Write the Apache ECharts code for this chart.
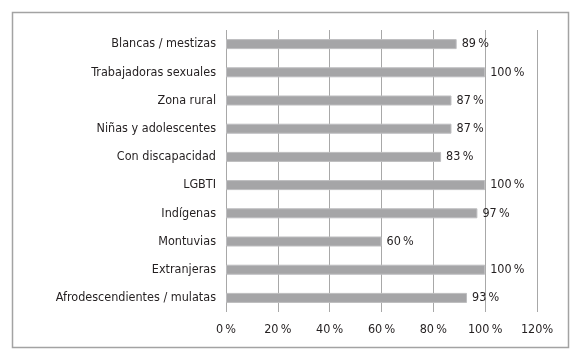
<!DOCTYPE html>
<html>
<head>
<meta charset="utf-8">
<script src="https://cdn.jsdelivr.net/npm/echarts@6/dist/echarts.min.js"></script>
<style>
  html, body { margin: 0; padding: 0; background: #fff; }
  #chart { width: 580px; height: 351px; }
</style>
</head>
<body>
<div id="chart"></div>
<script>
// categories from top to bottom
const categories = [
  'Blancas / mestizas',
  'Trabajadoras sexuales',
  'Zona rural',
  'Niñas y adolescentes',
  'Con discapacidad',
  'LGBTI',
  'Indígenas',
  'Montuvias',
  'Extranjeras',
  'Afrodescendientes / mulatas'
]
const values = [89, 100, 87, 87, 83, 100, 97, 60, 100, 93]
const xTicks = [0, 20, 40, 60, 80, 100, 120]

const font = "'Liberation Sans Narrow', 'DejaVu Sans Condensed', sans-serif"
const textColor = '#231f20'
const thin = '\u2009'

const chart = echarts.init(document.getElementById('chart'))

chart.setOption({
  animation: false,
  graphic: [{
    type: 'rect',
    shape: { x: 12.5, y: 12.5, width: 556, height: 335 },
    style: { fill: 'none', stroke: '#a3a3a3', lineWidth: 1.5 },
    silent: true
  }],
  grid: {
    left: 226,
    right: 43,
    top: 30,
    bottom: 39
  },
  xAxis: {
    type: 'value',
    min: xTicks[0],
    max: xTicks[xTicks.length - 1],
    interval: 20,
    axisLine: { show: false },
    axisTick: { show: false },
    splitLine: { lineStyle: { color: '#a8a8a8', width: 1 } },
    axisLabel: {
      margin: 11,
      fontFamily: font,
      fontSize: 12.5,
      color: textColor,
      formatter: v => v === 120 ? '120%' : v + thin + '%'
    }
  },
  yAxis: {
    type: 'category',
    data: categories,
    inverse: true,
    axisLine: { show: false },
    axisTick: { show: false },
    axisLabel: {
      margin: 10,
      fontFamily: font,
      fontSize: 12.5,
      color: textColor
    }
  },
  series: [{
    type: 'bar',
    data: values,
    barWidth: 10,
    itemStyle: {
      color: '#a5a5a7',
      borderColor: '#bdbdbf',
      borderWidth: 1
    },
    label: {
      show: true,
      position: 'right',
      distance: 5,
      fontFamily: font,
      fontSize: 12.5,
      color: textColor,
      formatter: p => p.value + thin + '%'
    }
  }]
})
</script>
</body>
</html>
